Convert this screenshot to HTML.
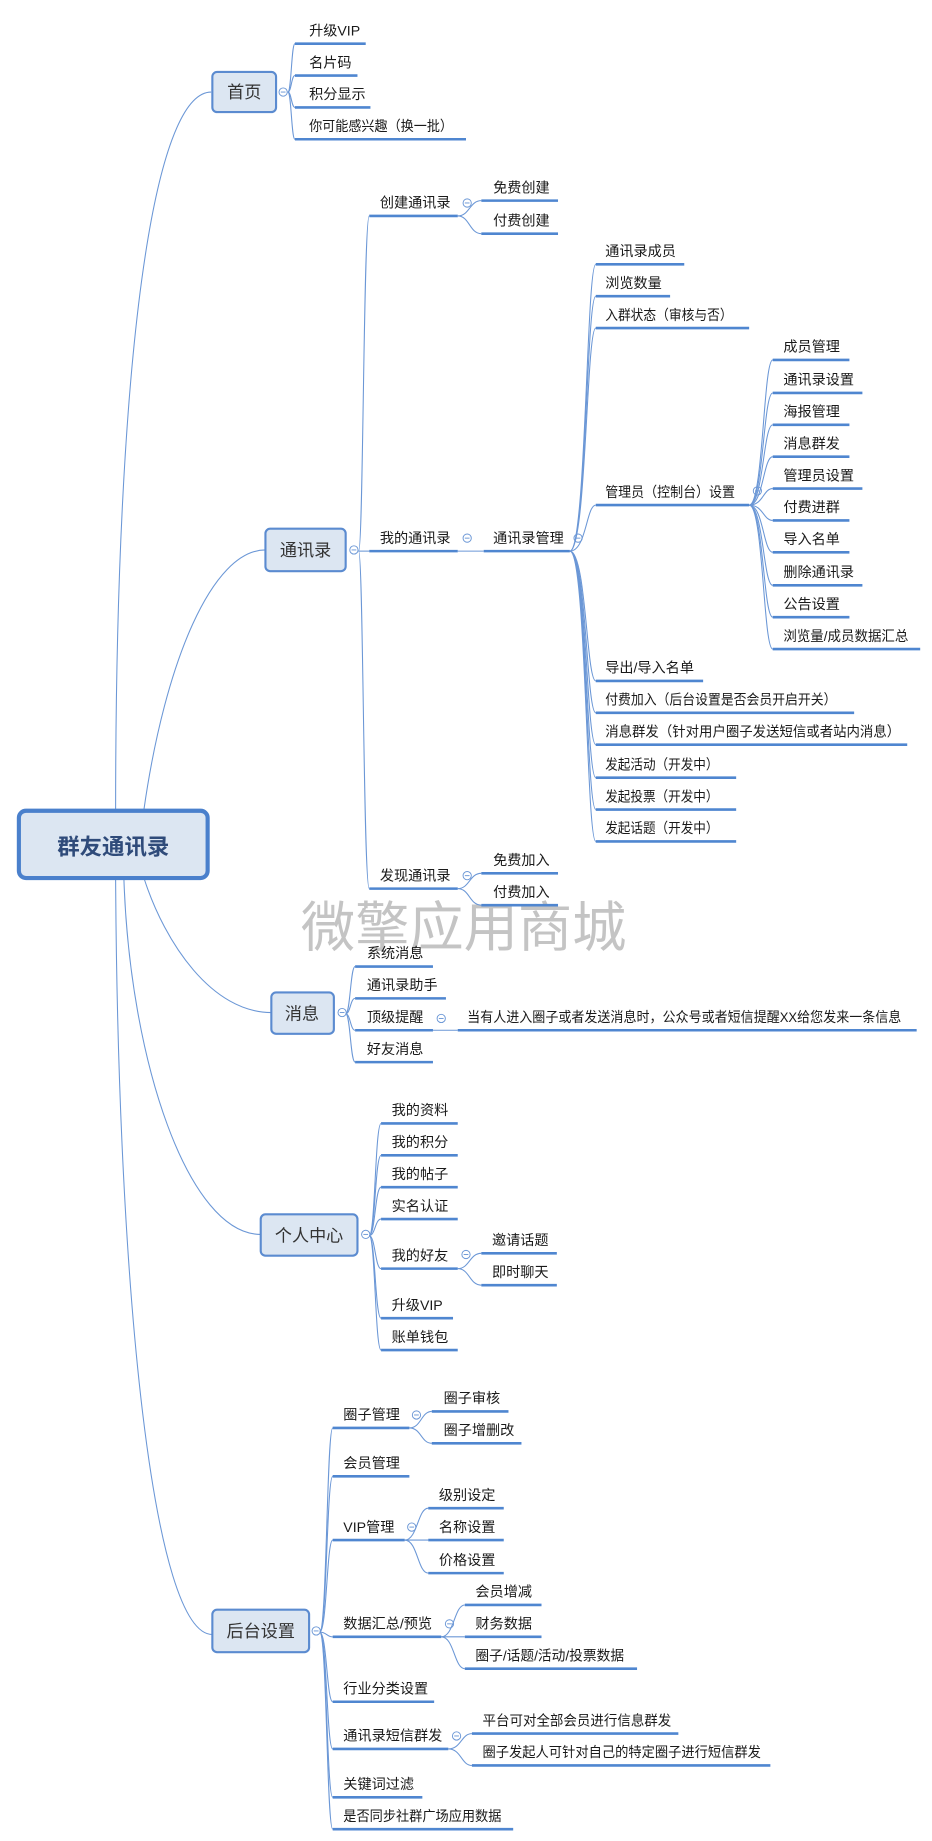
<!DOCTYPE html>
<html><head><meta charset="utf-8"><style>
html,body{margin:0;padding:0;background:#fff;}
svg{display:block;}
text{font-family:"Liberation Sans","Noto Sans CJK SC",sans-serif;font-size:12px;fill:#1a1a1a;}
.u{stroke:#4f86d0;stroke-width:2.2;}
.c{fill:none;stroke:#6b97d6;stroke-width:0.9;}
.b{fill:#dce6f2;stroke:#5b8bd0;stroke-width:1.8;}
.bt{font-size:14.5px;fill:#333;text-anchor:middle;}
.o{fill:#fff;stroke:#6b97d6;stroke-width:0.8;}
.m{stroke:#6b97d6;stroke-width:0.8;}
</style></head><body>
<svg width="932" height="1841" viewBox="0 0 790 1560" preserveAspectRatio="none" xmlns="http://www.w3.org/2000/svg">
<path class="c" d="M98 686 C98 300 130 78 179 78"/>
<path class="c" d="M122 686 C140 560 180 466 225 466"/>
<path class="c" d="M122 744 C140 800 180 858 230 858"/>
<path class="c" d="M105 744 C110 900 160 1046 221 1046"/>
<path class="c" d="M98 744 C100 1100 130 1385 180 1385"/>

<text x="255" y="802" style="font-size:46px;fill:#c4c4c4;font-family:'Noto Sans CJK SC',sans-serif;">微擎应用商城</text>

<rect x="16" y="687" width="160" height="57" rx="6" fill="#dce6f2" stroke="#4a80cc" stroke-width="3.5"/>
<text x="96" y="724" style="font-size:19px;font-weight:bold;fill:#2f4b7a;text-anchor:middle;">群友通讯录</text>

<rect class="b" x="180" y="61" width="54" height="34" rx="4"/>
<text class="bt" x="207" y="83">首页</text>
<circle class="o" cx="240" cy="78" r="3.5"/><line class="m" x1="238" y1="78" x2="242" y2="78"/>
<path class="c" d="M244 78 C247 78 247 37 250 37"/>
<path class="c" d="M244 78 C247 78 247 64 250 64"/>
<path class="c" d="M244 78 C247 78 247 91 250 91"/>
<path class="c" d="M244 78 C247 78 247 118 250 118"/>
<line class="u" x1="250" y1="37" x2="310" y2="37"/><text x="262" y="30">升级VIP</text>
<line class="u" x1="250" y1="64" x2="303" y2="64"/><text x="262" y="57">名片码</text>
<line class="u" x1="250" y1="91" x2="314" y2="91"/><text x="262" y="84">积分显示</text>
<line class="u" x1="250" y1="118" x2="395" y2="118"/><text x="262" y="111" textLength="122" lengthAdjust="spacingAndGlyphs">你可能感兴趣（换一批）</text>

<rect class="b" x="225" y="448" width="68" height="36" rx="4"/>
<text class="bt" x="259" y="471">通讯录</text>
<circle class="o" cx="300" cy="466" r="3.5"/><line class="m" x1="298" y1="466" x2="302" y2="466"/>
<path class="c" d="M304 467 C308 467 308 183 313 183"/>
<path class="c" d="M304 467 L313 467"/>
<path class="c" d="M304 467 C308 467 308 753 313 753"/>
<line class="u" x1="313" y1="183" x2="388" y2="183"/><text x="322" y="176">创建通讯录</text>
<line class="u" x1="313" y1="467" x2="388" y2="467"/><text x="322" y="460">我的通讯录</text>
<line class="u" x1="313" y1="753" x2="388" y2="753"/><text x="322" y="746">发现通讯录</text>

<circle class="o" cx="396" cy="172" r="3.5"/><line class="m" x1="394" y1="172" x2="398" y2="172"/>
<path class="c" d="M388 183 C398 183 398 170 408 170"/>
<path class="c" d="M388 183 C398 183 398 198 408 198"/>
<line class="u" x1="408" y1="170" x2="473" y2="170"/><text x="418" y="163">免费创建</text>
<line class="u" x1="408" y1="198" x2="473" y2="198"/><text x="418" y="191">付费创建</text>

<circle class="o" cx="396" cy="456" r="3.5"/><line class="m" x1="394" y1="456" x2="398" y2="456"/>
<path class="c" d="M388 467 L410 467"/>
<line class="u" x1="410" y1="467" x2="483" y2="467"/><text x="418" y="460">通讯录管理</text>
<circle class="o" cx="490" cy="456" r="3.5"/><line class="m" x1="488" y1="456" x2="492" y2="456"/>
<path class="c" d="M483 467 C497 467 497 224 505 224"/>
<path class="c" d="M483 467 C497 467 497 251 505 251"/>
<path class="c" d="M483 467 C497 467 497 278 505 278"/>
<path class="c" d="M483 467 C497 467 497 428 505 428"/>
<path class="c" d="M483 467 C497 467 497 577 505 577"/>
<path class="c" d="M483 467 C497 467 497 604 505 604"/>
<path class="c" d="M483 467 C497 467 497 631 505 631"/>
<path class="c" d="M483 467 C497 467 497 659 505 659"/>
<path class="c" d="M483 467 C497 467 497 686 505 686"/>
<path class="c" d="M483 467 C497 467 497 713 505 713"/>
<line class="u" x1="505" y1="224" x2="580" y2="224"/><text x="513" y="217">通讯录成员</text>
<line class="u" x1="505" y1="251" x2="568" y2="251"/><text x="513" y="244">浏览数量</text>
<line class="u" x1="505" y1="278" x2="635" y2="278"/><text x="513" y="271" textLength="108" lengthAdjust="spacingAndGlyphs">入群状态（审核与否）</text>
<line class="u" x1="505" y1="428" x2="635" y2="428"/><text x="513" y="421" textLength="110" lengthAdjust="spacingAndGlyphs">管理员（控制台）设置</text>
<line class="u" x1="505" y1="577" x2="596" y2="577"/><text x="513" y="570">导出/导入名单</text>
<line class="u" x1="505" y1="604" x2="724" y2="604"/><text x="513" y="597" textLength="196" lengthAdjust="spacingAndGlyphs">付费加入（后台设置是否会员开启开关）</text>
<line class="u" x1="505" y1="631" x2="769" y2="631"/><text x="513" y="624" textLength="250" lengthAdjust="spacingAndGlyphs">消息群发（针对用户圈子发送短信或者站内消息）</text>
<line class="u" x1="505" y1="659" x2="624" y2="659"/><text x="513" y="652" textLength="96" lengthAdjust="spacingAndGlyphs">发起活动（开发中）</text>
<line class="u" x1="505" y1="686" x2="624" y2="686"/><text x="513" y="679" textLength="96" lengthAdjust="spacingAndGlyphs">发起投票（开发中）</text>
<line class="u" x1="505" y1="713" x2="624" y2="713"/><text x="513" y="706" textLength="96" lengthAdjust="spacingAndGlyphs">发起话题（开发中）</text>

<circle class="o" cx="642" cy="416" r="3.5"/><line class="m" x1="640" y1="416" x2="644" y2="416"/>
<path class="c" d="M635 428 C647 428 647 305 655 305"/>
<path class="c" d="M635 428 C647 428 647 333 655 333"/>
<path class="c" d="M635 428 C647 428 647 360 655 360"/>
<path class="c" d="M635 428 C647 428 647 387 655 387"/>
<path class="c" d="M635 428 C647 428 647 414 655 414"/>
<path class="c" d="M635 428 C647 428 647 441 655 441"/>
<path class="c" d="M635 428 C647 428 647 468 655 468"/>
<path class="c" d="M635 428 C647 428 647 496 655 496"/>
<path class="c" d="M635 428 C647 428 647 523 655 523"/>
<path class="c" d="M635 428 C647 428 647 550 655 550"/>
<line class="u" x1="655" y1="305" x2="720" y2="305"/><text x="664" y="298">成员管理</text>
<line class="u" x1="655" y1="333" x2="731" y2="333"/><text x="664" y="326">通讯录设置</text>
<line class="u" x1="655" y1="360" x2="720" y2="360"/><text x="664" y="353">海报管理</text>
<line class="u" x1="655" y1="387" x2="720" y2="387"/><text x="664" y="380">消息群发</text>
<line class="u" x1="655" y1="414" x2="731" y2="414"/><text x="664" y="407">管理员设置</text>
<line class="u" x1="655" y1="441" x2="720" y2="441"/><text x="664" y="434">付费进群</text>
<line class="u" x1="655" y1="468" x2="720" y2="468"/><text x="664" y="461">导入名单</text>
<line class="u" x1="655" y1="496" x2="731" y2="496"/><text x="664" y="489">删除通讯录</text>
<line class="u" x1="655" y1="523" x2="720" y2="523"/><text x="664" y="516">公告设置</text>
<line class="u" x1="655" y1="550" x2="780" y2="550"/><text x="664" y="543" textLength="106" lengthAdjust="spacingAndGlyphs">浏览量/成员数据汇总</text>

<circle class="o" cx="396" cy="742" r="3.5"/><line class="m" x1="394" y1="742" x2="398" y2="742"/>
<path class="c" d="M388 753 C398 753 398 740 408 740"/>
<path class="c" d="M388 753 C398 753 398 767 408 767"/>
<line class="u" x1="408" y1="740" x2="473" y2="740"/><text x="418" y="733">免费加入</text>
<line class="u" x1="408" y1="767" x2="473" y2="767"/><text x="418" y="760">付费加入</text>

<rect class="b" x="230" y="841" width="53" height="35" rx="4"/>
<text class="bt" x="256" y="864">消息</text>
<circle class="o" cx="290" cy="858" r="3.5"/><line class="m" x1="288" y1="858" x2="292" y2="858"/>
<path class="c" d="M293 859 C297 859 297 819 301 819"/>
<path class="c" d="M293 859 C297 859 297 846 301 846"/>
<path class="c" d="M293 859 C297 859 297 873 301 873"/>
<path class="c" d="M293 859 C297 859 297 900 301 900"/>
<line class="u" x1="301" y1="819" x2="367" y2="819"/><text x="311" y="812">系统消息</text>
<line class="u" x1="301" y1="846" x2="378" y2="846"/><text x="311" y="839">通讯录助手</text>
<line class="u" x1="301" y1="873" x2="367" y2="873"/><text x="311" y="866">顶级提醒</text>
<line class="u" x1="301" y1="900" x2="367" y2="900"/><text x="311" y="893">好友消息</text>
<circle class="o" cx="374" cy="863" r="3.5"/><line class="m" x1="372" y1="863" x2="376" y2="863"/>
<path class="c" d="M367 873 L388 873"/>
<line class="u" x1="388" y1="873" x2="777" y2="873"/><text x="396" y="866" textLength="368" lengthAdjust="spacingAndGlyphs">当有人进入圈子或者发送消息时，公众号或者短信提醒XX给您发来一条信息</text>

<rect class="b" x="221" y="1029" width="82" height="35" rx="4"/>
<text class="bt" x="262" y="1052">个人中心</text>
<circle class="o" cx="310" cy="1046" r="3.5"/><line class="m" x1="308" y1="1046" x2="312" y2="1046"/>
<path class="c" d="M313 1047 C318 1047 318 952 323 952"/>
<path class="c" d="M313 1047 C318 1047 318 979 323 979"/>
<path class="c" d="M313 1047 C318 1047 318 1006 323 1006"/>
<path class="c" d="M313 1047 C318 1047 318 1033 323 1033"/>
<path class="c" d="M313 1047 C318 1047 318 1075 323 1075"/>
<path class="c" d="M313 1047 C318 1047 318 1117 323 1117"/>
<path class="c" d="M313 1047 C318 1047 318 1144 323 1144"/>
<line class="u" x1="323" y1="952" x2="388" y2="952"/><text x="332" y="945">我的资料</text>
<line class="u" x1="323" y1="979" x2="388" y2="979"/><text x="332" y="972">我的积分</text>
<line class="u" x1="323" y1="1006" x2="388" y2="1006"/><text x="332" y="999">我的帖子</text>
<line class="u" x1="323" y1="1033" x2="388" y2="1033"/><text x="332" y="1026">实名认证</text>
<line class="u" x1="323" y1="1075" x2="388" y2="1075"/><text x="332" y="1068">我的好友</text>
<line class="u" x1="323" y1="1117" x2="384" y2="1117"/><text x="332" y="1110">升级VIP</text>
<line class="u" x1="323" y1="1144" x2="388" y2="1144"/><text x="332" y="1137">账单钱包</text>
<circle class="o" cx="395" cy="1063" r="3.5"/><line class="m" x1="393" y1="1063" x2="397" y2="1063"/>
<path class="c" d="M388 1075 C398 1075 398 1062 408 1062"/>
<path class="c" d="M388 1075 C398 1075 398 1089 408 1089"/>
<line class="u" x1="408" y1="1062" x2="472" y2="1062"/><text x="417" y="1055">邀请话题</text>
<line class="u" x1="408" y1="1089" x2="472" y2="1089"/><text x="417" y="1082">即时聊天</text>

<rect class="b" x="180" y="1364" width="82" height="36" rx="4"/>
<text class="bt" x="221" y="1387">后台设置</text>
<circle class="o" cx="268" cy="1382" r="3.5"/><line class="m" x1="266" y1="1382" x2="270" y2="1382"/>
<path class="c" d="M271 1383 C277 1383 277 1210 282 1210"/>
<path class="c" d="M271 1383 C277 1383 277 1251 282 1251"/>
<path class="c" d="M271 1383 C277 1383 277 1305 282 1305"/>
<path class="c" d="M271 1383 C277 1383 277 1387 282 1387"/>
<path class="c" d="M271 1383 C277 1383 277 1442 282 1442"/>
<path class="c" d="M271 1383 C277 1383 277 1482 282 1482"/>
<path class="c" d="M271 1383 C277 1383 277 1523 282 1523"/>
<path class="c" d="M271 1383 C277 1383 277 1550 282 1550"/>
<line class="u" x1="282" y1="1210" x2="347" y2="1210"/><text x="291" y="1203">圈子管理</text>
<line class="u" x1="282" y1="1251" x2="347" y2="1251"/><text x="291" y="1244">会员管理</text>
<line class="u" x1="282" y1="1305" x2="343" y2="1305"/><text x="291" y="1298">VIP管理</text>
<line class="u" x1="282" y1="1387" x2="374" y2="1387"/><text x="291" y="1380">数据汇总/预览</text>
<line class="u" x1="282" y1="1442" x2="368" y2="1442"/><text x="291" y="1435">行业分类设置</text>
<line class="u" x1="282" y1="1482" x2="380" y2="1482"/><text x="291" y="1475">通讯录短信群发</text>
<line class="u" x1="282" y1="1523" x2="358" y2="1523"/><text x="291" y="1516">关键词过滤</text>
<line class="u" x1="282" y1="1550" x2="435" y2="1550"/><text x="291" y="1543" textLength="134" lengthAdjust="spacingAndGlyphs">是否同步社群广场应用数据</text>

<circle class="o" cx="353" cy="1199" r="3.5"/><line class="m" x1="351" y1="1199" x2="355" y2="1199"/>
<path class="c" d="M347 1210 C357 1210 357 1196 366 1196"/>
<path class="c" d="M347 1210 C357 1210 357 1223 366 1223"/>
<line class="u" x1="366" y1="1196" x2="431" y2="1196"/><text x="376" y="1189">圈子审核</text>
<line class="u" x1="366" y1="1223" x2="442" y2="1223"/><text x="376" y="1216">圈子增删改</text>

<circle class="o" cx="349" cy="1294" r="3.5"/><line class="m" x1="347" y1="1294" x2="351" y2="1294"/>
<path class="c" d="M343 1305 C354 1305 354 1278 363 1278"/>
<path class="c" d="M343 1305 L363 1305"/>
<path class="c" d="M343 1305 C354 1305 354 1333 363 1333"/>
<line class="u" x1="363" y1="1278" x2="427" y2="1278"/><text x="372" y="1271">级别设定</text>
<line class="u" x1="363" y1="1305" x2="427" y2="1305"/><text x="372" y="1298">名称设置</text>
<line class="u" x1="363" y1="1333" x2="427" y2="1333"/><text x="372" y="1326">价格设置</text>

<circle class="o" cx="381" cy="1376" r="3.5"/><line class="m" x1="379" y1="1376" x2="383" y2="1376"/>
<path class="c" d="M374 1387 C385 1387 385 1360 394 1360"/>
<path class="c" d="M374 1387 L394 1387"/>
<path class="c" d="M374 1387 C385 1387 385 1414 394 1414"/>
<line class="u" x1="394" y1="1360" x2="459" y2="1360"/><text x="403" y="1353">会员增减</text>
<line class="u" x1="394" y1="1387" x2="459" y2="1387"/><text x="403" y="1380">财务数据</text>
<line class="u" x1="394" y1="1414" x2="540" y2="1414"/><text x="403" y="1407" textLength="126" lengthAdjust="spacingAndGlyphs">圈子/话题/活动/投票数据</text>

<circle class="o" cx="387" cy="1471" r="3.5"/><line class="m" x1="385" y1="1471" x2="389" y2="1471"/>
<path class="c" d="M380 1482 C391 1482 391 1469 400 1469"/>
<path class="c" d="M380 1482 C391 1482 391 1496 400 1496"/>
<line class="u" x1="400" y1="1469" x2="575" y2="1469"/><text x="409" y="1462" textLength="160" lengthAdjust="spacingAndGlyphs">平台可对全部会员进行信息群发</text>
<line class="u" x1="400" y1="1496" x2="653" y2="1496"/><text x="409" y="1489" textLength="236" lengthAdjust="spacingAndGlyphs">圈子发起人可针对自己的特定圈子进行短信群发</text>
</svg>
</body></html>
